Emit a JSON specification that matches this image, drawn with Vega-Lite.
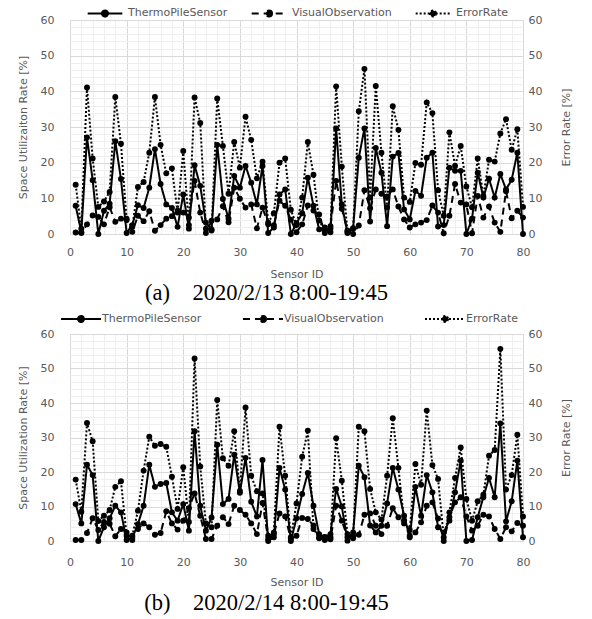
{
"$schema": "https://vega.github.io/schema/vega-lite/v6.json",
"padding": {"left": 17, "top": 3, "right": 5, "bottom": 0},
"spacing": 3,
"config": {"view": {"stroke": null}, "font": "DejaVu Sans",
 "axis": {"labelFont": "DejaVu Sans", "labelFontSize": 11, "labelColor": "#595959", "titleFont": "DejaVu Sans", "titleFontSize": 11, "titleColor": "#595959", "titleFontWeight": "normal", "ticks": false, "domain": false},
 "legend": {"labelFont": "DejaVu Sans", "labelFontSize": 11, "labelColor": "#595959"}},
"resolve": {"scale": {"strokeDash": "independent"}},
"datasets": {
"a": [
{"id":1,"ThermoPileSensor":7.9,"VisualObservation":0.4,"ErrorRate":13.8},
{"id":2,"ThermoPileSensor":0.5,"VisualObservation":0.3,"ErrorRate":1.5},
{"id":3,"ThermoPileSensor":27.1,"VisualObservation":2.7,"ErrorRate":41.1},
{"id":4,"ThermoPileSensor":15.1,"VisualObservation":5.2,"ErrorRate":21.2},
{"id":5,"ThermoPileSensor":0,"VisualObservation":4.8,"ErrorRate":7.6},
{"id":6,"ThermoPileSensor":6.5,"VisualObservation":2.7,"ErrorRate":9.1},
{"id":7,"ThermoPileSensor":8.5,"VisualObservation":7.5,"ErrorRate":11.8},
{"id":8,"ThermoPileSensor":26.0,"VisualObservation":3.4,"ErrorRate":38.4},
{"id":9,"ThermoPileSensor":15.4,"VisualObservation":4.3,"ErrorRate":25.3},
{"id":10,"ThermoPileSensor":0.3,"VisualObservation":4.3,"ErrorRate":3.9},
{"id":11,"ThermoPileSensor":2.5,"VisualObservation":0.6,"ErrorRate":2.0},
{"id":12,"ThermoPileSensor":8.1,"VisualObservation":5.1,"ErrorRate":13.2},
{"id":13,"ThermoPileSensor":7.3,"VisualObservation":3.6,"ErrorRate":14.6},
{"id":14,"ThermoPileSensor":13.0,"VisualObservation":6.4,"ErrorRate":22.8},
{"id":15,"ThermoPileSensor":23.8,"VisualObservation":0.9,"ErrorRate":38.4},
{"id":16,"ThermoPileSensor":14.0,"VisualObservation":2.5,"ErrorRate":25.0},
{"id":17,"ThermoPileSensor":8.3,"VisualObservation":4.3,"ErrorRate":17.0},
{"id":18,"ThermoPileSensor":7.3,"VisualObservation":5.0,"ErrorRate":18.4},
{"id":19,"ThermoPileSensor":2.0,"VisualObservation":6.5,"ErrorRate":6.0},
{"id":20,"ThermoPileSensor":11.1,"VisualObservation":6.0,"ErrorRate":23.3},
{"id":21,"ThermoPileSensor":1.5,"VisualObservation":4.6,"ErrorRate":2.5},
{"id":22,"ThermoPileSensor":19.3,"VisualObservation":14.9,"ErrorRate":38.3},
{"id":23,"ThermoPileSensor":13.5,"VisualObservation":6.0,"ErrorRate":31.1},
{"id":24,"ThermoPileSensor":3.2,"VisualObservation":0.3,"ErrorRate":1.5},
{"id":25,"ThermoPileSensor":1.3,"VisualObservation":3.7,"ErrorRate":1.0},
{"id":26,"ThermoPileSensor":25.0,"VisualObservation":4.1,"ErrorRate":38.0},
{"id":27,"ThermoPileSensor":9.8,"VisualObservation":7.8,"ErrorRate":24.7},
{"id":28,"ThermoPileSensor":4.3,"VisualObservation":3.3,"ErrorRate":11.3},
{"id":29,"ThermoPileSensor":16.3,"VisualObservation":13.0,"ErrorRate":25.8},
{"id":30,"ThermoPileSensor":13.0,"VisualObservation":9.9,"ErrorRate":18.6},
{"id":31,"ThermoPileSensor":19.1,"VisualObservation":7.4,"ErrorRate":32.9},
{"id":32,"ThermoPileSensor":14.4,"VisualObservation":8.3,"ErrorRate":26.4},
{"id":33,"ThermoPileSensor":8.3,"VisualObservation":1.6,"ErrorRate":15.6},
{"id":34,"ThermoPileSensor":19.1,"VisualObservation":7.4,"ErrorRate":20.3},
{"id":35,"ThermoPileSensor":0.3,"VisualObservation":2.7,"ErrorRate":3.2},
{"id":36,"ThermoPileSensor":1.8,"VisualObservation":2.5,"ErrorRate":5.8},
{"id":37,"ThermoPileSensor":11.1,"VisualObservation":9.3,"ErrorRate":20.0},
{"id":38,"ThermoPileSensor":12.5,"VisualObservation":7.9,"ErrorRate":21.2},
{"id":39,"ThermoPileSensor":0,"VisualObservation":4.0,"ErrorRate":6.8},
{"id":40,"ThermoPileSensor":3.0,"VisualObservation":0.5,"ErrorRate":2.5},
{"id":41,"ThermoPileSensor":5.8,"VisualObservation":2.7,"ErrorRate":10.2},
{"id":42,"ThermoPileSensor":15.8,"VisualObservation":8.0,"ErrorRate":25.8},
{"id":43,"ThermoPileSensor":7.9,"VisualObservation":6.6,"ErrorRate":16.6},
{"id":44,"ThermoPileSensor":1.3,"VisualObservation":5.5,"ErrorRate":3.8},
{"id":45,"ThermoPileSensor":1.8,"VisualObservation":0.3,"ErrorRate":0.8},
{"id":46,"ThermoPileSensor":0.5,"VisualObservation":2.2,"ErrorRate":1.5},
{"id":47,"ThermoPileSensor":29.6,"VisualObservation":14.9,"ErrorRate":41.4},
{"id":48,"ThermoPileSensor":8.3,"VisualObservation":7.1,"ErrorRate":18.9},
{"id":49,"ThermoPileSensor":0.3,"VisualObservation":1.0,"ErrorRate":0.6},
{"id":50,"ThermoPileSensor":1.6,"VisualObservation":0,"ErrorRate":1.5},
{"id":51,"ThermoPileSensor":21.4,"VisualObservation":2.4,"ErrorRate":34.4},
{"id":52,"ThermoPileSensor":29.6,"VisualObservation":12.3,"ErrorRate":46.3},
{"id":53,"ThermoPileSensor":3.5,"VisualObservation":7.2,"ErrorRate":10.2},
{"id":54,"ThermoPileSensor":24.1,"VisualObservation":12.5,"ErrorRate":41.5},
{"id":55,"ThermoPileSensor":17.2,"VisualObservation":11.3,"ErrorRate":22.8},
{"id":56,"ThermoPileSensor":2.2,"VisualObservation":10.5,"ErrorRate":7.4},
{"id":57,"ThermoPileSensor":21.7,"VisualObservation":12.5,"ErrorRate":35.8},
{"id":58,"ThermoPileSensor":22.7,"VisualObservation":7.7,"ErrorRate":29.2},
{"id":59,"ThermoPileSensor":6.9,"VisualObservation":4.1,"ErrorRate":10.2},
{"id":60,"ThermoPileSensor":4.1,"VisualObservation":1.8,"ErrorRate":9.0},
{"id":61,"ThermoPileSensor":12.1,"VisualObservation":2.7,"ErrorRate":19.9},
{"id":62,"ThermoPileSensor":10.7,"VisualObservation":3.2,"ErrorRate":19.4},
{"id":63,"ThermoPileSensor":21.4,"VisualObservation":3.9,"ErrorRate":36.9},
{"id":64,"ThermoPileSensor":22.8,"VisualObservation":8.0,"ErrorRate":33.9},
{"id":65,"ThermoPileSensor":2.1,"VisualObservation":6.0,"ErrorRate":12.3},
{"id":66,"ThermoPileSensor":2.5,"VisualObservation":0.2,"ErrorRate":5.1},
{"id":67,"ThermoPileSensor":18.6,"VisualObservation":5.1,"ErrorRate":28.5},
{"id":68,"ThermoPileSensor":17.7,"VisualObservation":14.0,"ErrorRate":19.1},
{"id":69,"ThermoPileSensor":17.7,"VisualObservation":8.8,"ErrorRate":24.7},
{"id":70,"ThermoPileSensor":0,"VisualObservation":8.3,"ErrorRate":13.3},
{"id":71,"ThermoPileSensor":4.3,"VisualObservation":0.2,"ErrorRate":7.5},
{"id":72,"ThermoPileSensor":17.2,"VisualObservation":10.7,"ErrorRate":21.2},
{"id":73,"ThermoPileSensor":10.2,"VisualObservation":4.6,"ErrorRate":10.7},
{"id":74,"ThermoPileSensor":15.5,"VisualObservation":7.7,"ErrorRate":20.8},
{"id":75,"ThermoPileSensor":10.2,"VisualObservation":3.2,"ErrorRate":20.3},
{"id":76,"ThermoPileSensor":16.8,"VisualObservation":0.6,"ErrorRate":28.2},
{"id":77,"ThermoPileSensor":12.5,"VisualObservation":12.0,"ErrorRate":32.2},
{"id":78,"ThermoPileSensor":15.2,"VisualObservation":4.4,"ErrorRate":23.6},
{"id":79,"ThermoPileSensor":22.8,"VisualObservation":6.5,"ErrorRate":29.4},
{"id":80,"ThermoPileSensor":0,"VisualObservation":4.6,"ErrorRate":7.6}
],
"b": [
{"id":1,"ThermoPileSensor":10.7,"VisualObservation":0.3,"ErrorRate":17.8},
{"id":2,"ThermoPileSensor":5.1,"VisualObservation":0.3,"ErrorRate":8.5},
{"id":3,"ThermoPileSensor":22.1,"VisualObservation":2.3,"ErrorRate":34.2},
{"id":4,"ThermoPileSensor":19.1,"VisualObservation":6.6,"ErrorRate":28.9},
{"id":5,"ThermoPileSensor":0,"VisualObservation":3.2,"ErrorRate":5.8},
{"id":6,"ThermoPileSensor":4.0,"VisualObservation":5.5,"ErrorRate":7.3},
{"id":7,"ThermoPileSensor":6.6,"VisualObservation":5.0,"ErrorRate":9.0},
{"id":8,"ThermoPileSensor":10.2,"VisualObservation":1.4,"ErrorRate":15.7},
{"id":9,"ThermoPileSensor":8.3,"VisualObservation":3.5,"ErrorRate":17.3},
{"id":10,"ThermoPileSensor":0.3,"VisualObservation":2.5,"ErrorRate":1.5},
{"id":11,"ThermoPileSensor":0.9,"VisualObservation":0.3,"ErrorRate":1.5},
{"id":12,"ThermoPileSensor":4.9,"VisualObservation":3.5,"ErrorRate":8.8},
{"id":13,"ThermoPileSensor":10.2,"VisualObservation":5.1,"ErrorRate":20.4},
{"id":14,"ThermoPileSensor":22.1,"VisualObservation":4.0,"ErrorRate":30.2},
{"id":15,"ThermoPileSensor":15.7,"VisualObservation":1.8,"ErrorRate":27.6},
{"id":16,"ThermoPileSensor":16.5,"VisualObservation":2.3,"ErrorRate":28.1},
{"id":17,"ThermoPileSensor":16.8,"VisualObservation":8.6,"ErrorRate":27.3},
{"id":18,"ThermoPileSensor":8.3,"VisualObservation":5.1,"ErrorRate":18.6},
{"id":19,"ThermoPileSensor":5.9,"VisualObservation":3.3,"ErrorRate":9.3},
{"id":20,"ThermoPileSensor":10.7,"VisualObservation":5.9,"ErrorRate":21.4},
{"id":21,"ThermoPileSensor":3.0,"VisualObservation":9.5,"ErrorRate":5.5},
{"id":22,"ThermoPileSensor":31.8,"VisualObservation":13.8,"ErrorRate":52.9},
{"id":23,"ThermoPileSensor":10.2,"VisualObservation":7.3,"ErrorRate":21.6},
{"id":24,"ThermoPileSensor":3.0,"VisualObservation":0.6,"ErrorRate":5.1},
{"id":25,"ThermoPileSensor":6.8,"VisualObservation":0.6,"ErrorRate":4.0},
{"id":26,"ThermoPileSensor":27.9,"VisualObservation":4.4,"ErrorRate":40.9},
{"id":27,"ThermoPileSensor":10.7,"VisualObservation":6.9,"ErrorRate":24.0},
{"id":28,"ThermoPileSensor":12.2,"VisualObservation":4.9,"ErrorRate":21.8},
{"id":29,"ThermoPileSensor":25.0,"VisualObservation":10.2,"ErrorRate":31.8},
{"id":30,"ThermoPileSensor":14.0,"VisualObservation":9.0,"ErrorRate":14.5},
{"id":31,"ThermoPileSensor":24.1,"VisualObservation":7.6,"ErrorRate":38.7},
{"id":32,"ThermoPileSensor":11.4,"VisualObservation":5.1,"ErrorRate":18.9},
{"id":33,"ThermoPileSensor":7.1,"VisualObservation":2.0,"ErrorRate":14.4},
{"id":34,"ThermoPileSensor":23.5,"VisualObservation":11.0,"ErrorRate":13.8},
{"id":35,"ThermoPileSensor":0,"VisualObservation":0.6,"ErrorRate":1.5},
{"id":36,"ThermoPileSensor":1.1,"VisualObservation":2.0,"ErrorRate":2.5},
{"id":37,"ThermoPileSensor":21.2,"VisualObservation":8.0,"ErrorRate":33.1},
{"id":38,"ThermoPileSensor":14.9,"VisualObservation":7.1,"ErrorRate":18.9},
{"id":39,"ThermoPileSensor":0,"VisualObservation":0.6,"ErrorRate":1.1},
{"id":40,"ThermoPileSensor":6.6,"VisualObservation":1.5,"ErrorRate":10.9},
{"id":41,"ThermoPileSensor":13.6,"VisualObservation":6.7,"ErrorRate":24.4},
{"id":42,"ThermoPileSensor":19.7,"VisualObservation":6.4,"ErrorRate":32.0},
{"id":43,"ThermoPileSensor":10.2,"VisualObservation":4.5,"ErrorRate":3.5},
{"id":44,"ThermoPileSensor":2.0,"VisualObservation":0.8,"ErrorRate":1.0},
{"id":45,"ThermoPileSensor":1.1,"VisualObservation":0.3,"ErrorRate":1.2},
{"id":46,"ThermoPileSensor":2.0,"VisualObservation":0.5,"ErrorRate":1.1},
{"id":47,"ThermoPileSensor":15.1,"VisualObservation":10.2,"ErrorRate":29.8},
{"id":48,"ThermoPileSensor":10.0,"VisualObservation":5.9,"ErrorRate":17.5},
{"id":49,"ThermoPileSensor":0.1,"VisualObservation":1.1,"ErrorRate":2.0},
{"id":50,"ThermoPileSensor":2.5,"VisualObservation":0.8,"ErrorRate":1.5},
{"id":51,"ThermoPileSensor":21.8,"VisualObservation":1.8,"ErrorRate":33.1},
{"id":52,"ThermoPileSensor":18.5,"VisualObservation":7.6,"ErrorRate":31.8},
{"id":53,"ThermoPileSensor":4.5,"VisualObservation":8.0,"ErrorRate":15.1},
{"id":54,"ThermoPileSensor":2.5,"VisualObservation":4.4,"ErrorRate":8.3},
{"id":55,"ThermoPileSensor":4.4,"VisualObservation":2.0,"ErrorRate":6.2},
{"id":56,"ThermoPileSensor":10.9,"VisualObservation":4.4,"ErrorRate":18.9},
{"id":57,"ThermoPileSensor":21.2,"VisualObservation":9.5,"ErrorRate":35.6},
{"id":58,"ThermoPileSensor":14.9,"VisualObservation":6.9,"ErrorRate":21.2},
{"id":59,"ThermoPileSensor":7.3,"VisualObservation":5.1,"ErrorRate":6.0},
{"id":60,"ThermoPileSensor":1.1,"VisualObservation":1.5,"ErrorRate":3.2},
{"id":61,"ThermoPileSensor":15.7,"VisualObservation":2.5,"ErrorRate":22.3},
{"id":62,"ThermoPileSensor":7.3,"VisualObservation":5.4,"ErrorRate":16.3},
{"id":63,"ThermoPileSensor":19.1,"VisualObservation":10.2,"ErrorRate":37.8},
{"id":64,"ThermoPileSensor":14.1,"VisualObservation":11.2,"ErrorRate":22.0},
{"id":65,"ThermoPileSensor":4.0,"VisualObservation":6.5,"ErrorRate":18.0},
{"id":66,"ThermoPileSensor":2.5,"VisualObservation":0,"ErrorRate":1.1},
{"id":67,"ThermoPileSensor":5.9,"VisualObservation":6.9,"ErrorRate":8.3},
{"id":68,"ThermoPileSensor":14.1,"VisualObservation":11.2,"ErrorRate":18.3},
{"id":69,"ThermoPileSensor":23.3,"VisualObservation":12.7,"ErrorRate":27.1},
{"id":70,"ThermoPileSensor":0,"VisualObservation":7.1,"ErrorRate":12.2},
{"id":71,"ThermoPileSensor":0.3,"VisualObservation":3.0,"ErrorRate":5.9},
{"id":72,"ThermoPileSensor":6.9,"VisualObservation":4.4,"ErrorRate":11.5},
{"id":73,"ThermoPileSensor":12.7,"VisualObservation":7.6,"ErrorRate":13.4},
{"id":74,"ThermoPileSensor":18.3,"VisualObservation":7.1,"ErrorRate":24.7},
{"id":75,"ThermoPileSensor":12.7,"VisualObservation":3.5,"ErrorRate":26.4},
{"id":76,"ThermoPileSensor":34.1,"VisualObservation":0.6,"ErrorRate":55.7},
{"id":77,"ThermoPileSensor":5.7,"VisualObservation":4.0,"ErrorRate":14.9},
{"id":78,"ThermoPileSensor":11.5,"VisualObservation":2.8,"ErrorRate":19.1},
{"id":79,"ThermoPileSensor":23.3,"VisualObservation":5.2,"ErrorRate":30.8},
{"id":80,"ThermoPileSensor":1.1,"VisualObservation":4.4,"ErrorRate":7.1}
]
},
"vconcat": [
{
 "width": 453, "height": 214,
 "data": {"name": "a"},
 "title": {"text": "(a)\u00a0\u00a0\u00a0\u00a02020/2/13 8:00-19:45", "orient": "bottom", "font": "Liberation Serif", "fontSize": 22.5, "fontWeight": "normal", "color": "black", "offset": 3, "dx": -30},
 "encoding": {
  "x": {"field": "id", "type": "quantitative", "scale": {"domain": [0, 80], "nice": false},
   "axis": {"title": "Sensor ID", "values": [0,2,4,6,8,10,12,14,16,18,20,22,24,26,28,30,32,34,36,38,40,42,44,46,48,50,52,54,56,58,60,62,64,66,68,70,72,74,76,78,80],
    "labelExpr": "datum.value % 10 === 0 ? datum.label : ''", "labelOverlap": false, "labelFlush": false,
    "gridColor": {"condition": {"test": "datum.value % 10 === 0", "value": "#d9d9d9"}, "value": "#efefef"},
    "labelPadding": 12, "titlePadding": 11}}
 },
 "layer": [
  {
   "transform": [{"fold": ["ThermoPileSensor", "VisualObservation", "ErrorRate"], "as": ["series", "value"]}],
   "mark": {"type": "line", "color": "black", "strokeWidth": 2, "point": {"filled": true, "size": 35, "color": "black"}},
   "encoding": {
    "y": {"field": "value", "type": "quantitative", "scale": {"domain": [0, 60], "nice": false},
     "axis": {"orient": "left", "title": "Space Utilizaiton Rate [%]", "values": [0,2,4,6,8,10,12,14,16,18,20,22,24,26,28,30,32,34,36,38,40,42,44,46,48,50,52,54,56,58,60],
      "labelExpr": "datum.value % 10 === 0 ? datum.label : ''", "labelOverlap": false, "labelFlush": false,
      "gridColor": {"condition": {"test": "datum.value % 10 === 0", "value": "#d9d9d9"}, "value": "#efefef"},
      "labelPadding": 16, "titlePadding": 12}},
    "strokeDash": {"field": "series", "type": "nominal",
     "scale": {"domain": ["ThermoPileSensor", "VisualObservation", "ErrorRate"], "range": [[1, 0], [7, 5], [2, 2]]},
     "legend": {"orient": "none", "legendX": 25, "legendY": -17, "direction": "horizontal", "title": null,
      "symbolType": "M-2,0H2M0.35,0A0.35,0.35,0,1,1,-0.35,0A0.35,0.35,0,1,1,0.35,0",
      "symbolSize": 300, "symbolStrokeWidth": 2, "symbolStrokeColor": "black", "symbolFillColor": "black",
      "columnPadding": 19, "labelOffset": 13,
      "encode": {"symbols": {"update": {"stroke": {"value": "black"}, "strokeWidth": {"value": 2}, "fill": {"value": "black"}}}}}}
   }
  },
  {
   "mark": {"type": "point", "opacity": 0},
   "encoding": {
    "y": {"field": "ErrorRate", "type": "quantitative", "scale": {"domain": [0, 60], "nice": false},
     "axis": {"orient": "right", "title": "Error Rate [%]", "values": [0,10,20,30,40,50,60], "grid": false,
      "labelPadding": 5, "titlePadding": 30, "titleAngle": 270}}
   }
  }
 ],
 "resolve": {"scale": {"y": "independent"}}
},
{
 "width": 453, "height": 207,
 "data": {"name": "b"},
 "title": {"text": "(b)\u00a0\u00a0\u00a0\u00a02020/2/14 8:00-19:45", "orient": "bottom", "font": "Liberation Serif", "fontSize": 22.5, "fontWeight": "normal", "color": "black", "offset": 5, "dx": -30},
 "encoding": {
  "x": {"field": "id", "type": "quantitative", "scale": {"domain": [0, 80], "nice": false},
   "axis": {"title": "Sensor ID", "values": [0,2,4,6,8,10,12,14,16,18,20,22,24,26,28,30,32,34,36,38,40,42,44,46,48,50,52,54,56,58,60,62,64,66,68,70,72,74,76,78,80],
    "labelExpr": "datum.value % 10 === 0 ? datum.label : ''", "labelOverlap": false, "labelFlush": false,
    "gridColor": {"condition": {"test": "datum.value % 10 === 0", "value": "#d9d9d9"}, "value": "#efefef"},
    "labelPadding": 15, "titlePadding": 9}}
 },
 "layer": [
  {
   "transform": [{"fold": ["ThermoPileSensor", "VisualObservation", "ErrorRate"], "as": ["series", "value"]}],
   "mark": {"type": "line", "color": "black", "strokeWidth": 2, "point": {"filled": true, "size": 35, "color": "black"}},
   "encoding": {
    "y": {"field": "value", "type": "quantitative", "scale": {"domain": [0, 60], "nice": false},
     "axis": {"orient": "left", "title": "Space Utilization Rate [%]", "values": [0,2,4,6,8,10,12,14,16,18,20,22,24,26,28,30,32,34,36,38,40,42,44,46,48,50,52,54,56,58,60],
      "labelExpr": "datum.value % 10 === 0 ? datum.label : ''", "labelOverlap": false, "labelFlush": false,
      "gridColor": {"condition": {"test": "datum.value % 10 === 0", "value": "#d9d9d9"}, "value": "#efefef"},
      "labelPadding": 16, "titlePadding": 12}},
    "strokeDash": {"field": "series", "type": "nominal",
     "scale": {"domain": ["ThermoPileSensor", "VisualObservation", "ErrorRate"], "range": [[1, 0], [7, 5], [2, 2]]},
     "legend": {"orient": "none", "legendX": 0, "legendY": -26, "direction": "horizontal", "title": null,
      "symbolType": "M-2,0H2M0.3,0A0.3,0.3,0,1,1,-0.3,0A0.3,0.3,0,1,1,0.3,0",
      "symbolSize": 400, "symbolStrokeWidth": 2, "symbolStrokeColor": "black", "symbolFillColor": "black",
      "columnPadding": 37, "labelOffset": 10,
      "encode": {"symbols": {"update": {"stroke": {"value": "black"}, "strokeWidth": {"value": 2}, "fill": {"value": "black"}}}}}}
   }
  },
  {
   "mark": {"type": "point", "opacity": 0},
   "encoding": {
    "y": {"field": "ErrorRate", "type": "quantitative", "scale": {"domain": [0, 60], "nice": false},
     "axis": {"orient": "right", "title": "Error Rate [%]", "values": [0,10,20,30,40,50,60], "grid": false,
      "labelPadding": 5, "titlePadding": 30, "titleAngle": 270}}
   }
  }
 ],
 "resolve": {"scale": {"y": "independent"}}
}
]
}
